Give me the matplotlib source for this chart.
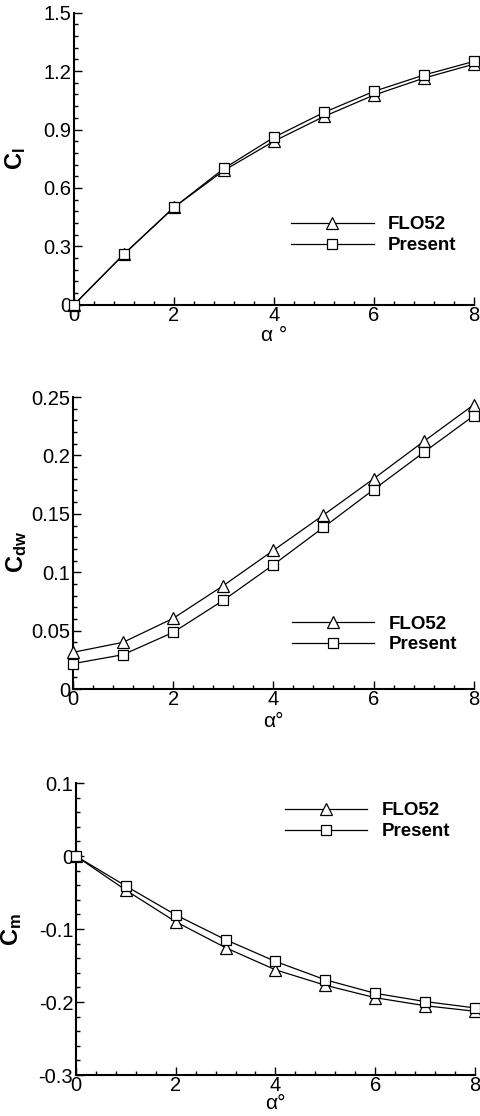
import matplotlib
matplotlib.use("Agg")
import matplotlib.pyplot as plt
from matplotlib.ticker import MultipleLocator, FixedLocator, FixedFormatter

plt.rcParams['font.family'] = ['Liberation Sans', 'DejaVu Sans']
plt.rcParams['mathtext.fontset'] = 'custom'
plt.rcParams['mathtext.rm'] = 'Liberation Sans'
plt.rcParams['mathtext.bf'] = 'Liberation Sans:bold'
plt.rcParams['axes.unicode_minus'] = False

alpha = [0, 1, 2, 3, 4, 5, 6, 7, 8]
x_ticks = [0, 2, 4, 6, 8]
x_tick_labels = ['0', '2', '4', '6', '8']

cl_flo52 = [0.0, 0.26, 0.50, 0.69, 0.84, 0.967, 1.077, 1.164, 1.236]
cl_present = [0.0, 0.26, 0.50, 0.70, 0.86, 0.988, 1.096, 1.18, 1.25]
cl_ticks = [0, 0.3, 0.6, 0.9, 1.2, 1.5]
cl_tick_labels = ['0', '0.3', '0.6', '0.9', '1.2', '1.5']

cdw_flo52 = [0.0314, 0.040, 0.0605, 0.0885, 0.1187, 0.149, 0.180, 0.212, 0.2434]
cdw_present = [0.0217, 0.0294, 0.0485, 0.0759, 0.1064, 0.1384, 0.1707, 0.2026, 0.234]
cdw_ticks = [0, 0.05, 0.1, 0.15, 0.2, 0.25]
cdw_tick_labels = ['0', '0.05', '0.1', '0.15', '0.2', '0.25']

cm_flo52 = [0.0, -0.0467, -0.090, -0.1255, -0.1558, -0.177, -0.194, -0.205, -0.2126]
cm_present = [0.0, -0.041, -0.0806, -0.1145, -0.1443, -0.1695, -0.188, -0.1993, -0.208]
cm_ticks = [-0.3, -0.2, -0.1, 0, 0.1]
cm_tick_labels = ['-0.3', '-0.2', '-0.1', '0', '0.1']

series_names = ['FLO52', 'Present']

fig = plt.figure(figsize=(4.8, 11.16), dpi=100)

panels = [
    dict(pos=[0.1542, 0.727, 0.8333, 0.2616], f=cl_flo52, p=cl_present,
         yt=cl_ticks, ytl=cl_tick_labels, ylim=(0, 1.5), ymin=0.06,
         ylabel=r'$\mathbf{C_l}$', xlabel='α °', leg=(0.5425, 0.238),
         xl=(0.5, -0.072), yl=(-0.115, 0.5)),
    dict(pos=[0.152, 0.3826, 0.835, 0.2616], f=cdw_flo52, p=cdw_present,
         yt=cdw_ticks, ytl=cdw_tick_labels, ylim=(0, 0.25), ymin=0.01,
         ylabel=r'$\mathbf{C_{dw}}$', xlabel='α°', leg=(0.546, 0.187),
         xl=(0.5, -0.08), yl=(-0.11, 0.47)),
    dict(pos=[0.1583, 0.0367, 0.831, 0.2616], f=cm_flo52, p=cm_present,
         yt=cm_ticks, ytl=cm_tick_labels, ylim=(-0.3, 0.1), ymin=0.02,
         ylabel=r'$\mathbf{C_m}$', xlabel='α°', leg=(0.524, 0.869),
         xl=(0.5, -0.066), yl=(-0.13, 0.5)),
]

for pn in panels:
    ax = fig.add_axes(pn['pos'])
    ax.plot(alpha, pn['f'], color='black', lw=0.9, marker='^', ms=8,
            mfc='white', mec='black', mew=0.9, clip_on=False, zorder=3,
            label=series_names[0])
    ax.plot(alpha, pn['p'], color='black', lw=0.9, marker='s', ms=7,
            mfc='white', mec='black', mew=0.9, clip_on=False, zorder=3,
            label=series_names[1])
    ax.set_xlim(0, 8)
    ax.set_ylim(*pn['ylim'])
    for s in ['top', 'right']:
        ax.spines[s].set_visible(False)
    for s in ['left', 'bottom']:
        ax.spines[s].set_linewidth(1.5)
    ax.xaxis.set_major_locator(FixedLocator(x_ticks))
    ax.xaxis.set_major_formatter(FixedFormatter(x_tick_labels))
    ax.xaxis.set_minor_locator(MultipleLocator(0.4))
    ax.yaxis.set_major_locator(FixedLocator(pn['yt']))
    ax.yaxis.set_major_formatter(FixedFormatter(pn['ytl']))
    ax.yaxis.set_minor_locator(MultipleLocator(pn['ymin']))
    ax.tick_params(which='both', direction='in', top=False, right=False,
                   labelsize=14.5, pad=2, width=1)
    ax.tick_params(axis='x', which='both', pad=1)
    ax.tick_params(which='major', length=6)
    ax.tick_params(which='minor', length=3)
    ax.set_ylabel(pn['ylabel'], fontsize=17)
    ax.yaxis.set_label_coords(*pn['yl'])
    ax.set_xlabel(pn['xlabel'], fontsize=15)
    ax.xaxis.set_label_coords(*pn['xl'])
    ax.legend(loc='center left', bbox_to_anchor=pn['leg'], frameon=False,
              borderpad=0, borderaxespad=0, handlelength=4.4,
              handletextpad=0.75, labelspacing=0.2,
              prop={'weight': 'bold', 'size': 13.5})

fig.savefig('out.png', dpi=100)
